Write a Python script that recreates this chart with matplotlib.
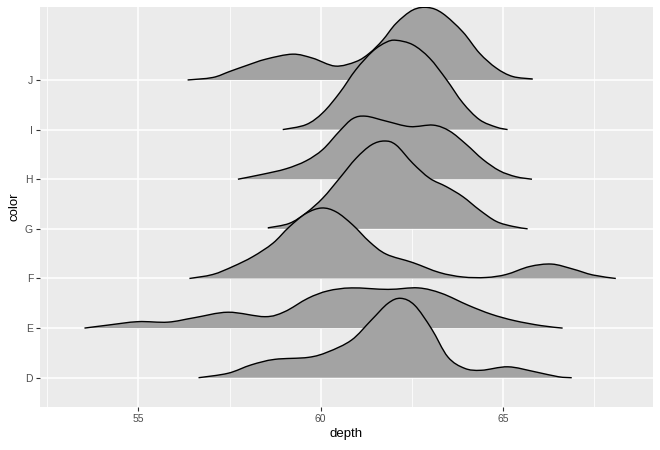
import matplotlib
matplotlib.use("Agg")
import matplotlib.pyplot as plt
from matplotlib.path import Path
from matplotlib.patches import PathPatch

plt.rcParams["font.family"] = ["Liberation Sans", "DejaVu Sans"]

# ridge categories, bottom to top
categories = ["D", "E", "F", "G", "H", "I", "J"]

# density outlines: depth values and ridge heights (in row units)
d_depth = [56.65, 57.46, 58.10, 58.74, 59.66, 60.20, 60.85, 61.39, 61.85, 62.20, 62.58,
           63.04, 63.49, 63.95, 64.41, 65.14, 65.88, 66.52, 66.89]
d_height = [0.0, 0.09, 0.26, 0.37, 0.41, 0.52, 0.76, 1.16, 1.50, 1.60, 1.46,
            0.99, 0.42, 0.19, 0.15, 0.22, 0.12, 0.02, 0.0]

e_depth = [53.52, 54.16, 54.99, 55.81, 56.54, 57.46, 58.47, 59.01, 59.65, 60.20, 60.85,
           61.85, 62.68, 63.32, 64.05, 64.68, 65.32, 66.05, 66.64]
e_height = [0.0, 0.06, 0.13, 0.12, 0.21, 0.32, 0.23, 0.33, 0.60, 0.75, 0.81,
            0.78, 0.81, 0.70, 0.46, 0.28, 0.15, 0.05, 0.0]

f_depth = [56.40, 57.04, 57.59, 58.14, 58.69, 59.14, 59.60, 60.03, 60.43, 60.88, 61.34,
           61.80, 62.53, 63.26, 63.90, 64.54, 65.09, 65.73, 66.34, 66.92, 67.47, 68.10]
f_height = [0.0, 0.08, 0.24, 0.44, 0.71, 1.04, 1.31, 1.42, 1.34, 1.08, 0.74,
            0.49, 0.32, 0.12, 0.03, 0.02, 0.08, 0.24, 0.29, 0.19, 0.07, 0.0]

g_depth = [58.55, 59.14, 59.60, 60.06, 60.52, 60.97, 61.39, 61.75, 62.07, 62.53, 62.99,
           63.45, 63.90, 64.36, 64.82, 65.27, 65.68]
g_height = [0.02, 0.11, 0.32, 0.62, 1.02, 1.42, 1.69, 1.77, 1.69, 1.32, 1.02,
            0.85, 0.65, 0.38, 0.15, 0.05, 0.0]

h_depth = [57.73, 58.41, 59.05, 59.60, 60.06, 60.52, 60.88, 61.24, 61.80, 62.45, 63.09,
           63.54, 64.00, 64.45, 64.91, 65.36, 65.80]
h_height = [0.0, 0.10, 0.21, 0.37, 0.60, 0.97, 1.22, 1.27, 1.17, 1.06, 1.09,
            0.97, 0.70, 0.40, 0.17, 0.05, 0.0]

i_depth = [58.96, 59.60, 60.06, 60.52, 60.97, 61.43, 61.80, 62.07, 62.53, 62.99, 63.45,
           63.90, 64.36, 64.82, 65.13]
i_height = [0.0, 0.10, 0.34, 0.74, 1.21, 1.58, 1.76, 1.80, 1.71, 1.44, 1.01,
            0.54, 0.20, 0.05, 0.0]

j_depth = [56.35, 57.04, 57.50, 57.96, 58.50, 59.23, 59.78, 60.40, 60.97, 61.34, 61.70,
           62.07, 62.53, 62.95, 63.35, 63.90, 64.36, 64.82, 65.27, 65.82]
j_height = [0.0, 0.05, 0.17, 0.29, 0.42, 0.52, 0.44, 0.28, 0.37, 0.54, 0.80,
            1.14, 1.41, 1.46, 1.34, 0.97, 0.54, 0.24, 0.07, 0.02]

ridges = {
    "D": (d_depth, d_height),
    "E": (e_depth, e_height),
    "F": (f_depth, f_height),
    "G": (g_depth, g_height),
    "H": (h_depth, h_height),
    "I": (i_depth, i_height),
    "J": (j_depth, j_height),
}


def smooth_path(xs, ys, base, closed):
    """Catmull-Rom style bezier through the read points (drawing only)."""
    pts = list(zip(xs, ys))
    verts = [pts[0]]
    codes = [Path.MOVETO]
    for k in range(len(pts) - 1):
        p0 = pts[k - 1] if k > 0 else pts[k]
        p1 = pts[k]
        p2 = pts[k + 1]
        p3 = pts[k + 2] if k + 2 < len(pts) else pts[k + 1]
        c1 = (p1[0] + (p2[0] - p0[0]) / 6, max(base, p1[1] + (p2[1] - p0[1]) / 6))
        c2 = (p2[0] - (p3[0] - p1[0]) / 6, max(base, p2[1] - (p3[1] - p1[1]) / 6))
        verts += [c1, c2, p2]
        codes += [Path.CURVE4] * 3
    if closed:
        verts += [(xs[-1], base), (xs[0], base), pts[0]]
        codes += [Path.LINETO, Path.LINETO, Path.CLOSEPOLY]
    return Path(verts, codes)


fig = plt.figure(figsize=(6.6, 4.5), dpi=100)
ax = fig.add_axes([0.0606, 0.0949, 0.9288, 0.8895])
ax.set_facecolor("#EBEBEB")

# top ridge first so lower ridges sit in front
n = len(categories)
for i, cat in reversed(list(enumerate(categories))):
    xs, hs = ridges[cat]
    base = i + 1
    ys = [base + h for h in hs]
    z = 10 + (n - i)
    ax.add_patch(PathPatch(smooth_path(xs, ys, base, True), facecolor="#A3A3A3",
                           edgecolor="none", zorder=z))
    ax.add_patch(PathPatch(smooth_path(xs, ys, base, False), facecolor="none",
                           edgecolor="black", linewidth=1.0, zorder=z + 0.5))

ax.set_xlim(52.30, 69.12)
ax.set_ylim(0.404, 8.47)
ax.set_xticks([55, 60, 65])
ax.set_xticks([52.5, 57.5, 62.5, 67.5], minor=True)
ax.set_yticks(range(1, n + 1))
ax.set_yticklabels(categories)

ax.grid(True, which="major", color="white", linewidth=1.1, zorder=0)
ax.grid(True, which="minor", axis="x", color="white", linewidth=0.55, zorder=0)
ax.set_axisbelow(True)
for s in ax.spines.values():
    s.set_visible(False)
ax.tick_params(which="major", length=3, width=0.8, color="#333333",
               labelcolor="#4D4D4D", labelsize=7.5, pad=2)
ax.tick_params(which="minor", length=0)

ax.set_xlabel("depth", fontsize=9.5, labelpad=3)
ax.set_ylabel("color", fontsize=9.5, labelpad=3)

fig.savefig("out.png", dpi=100)
